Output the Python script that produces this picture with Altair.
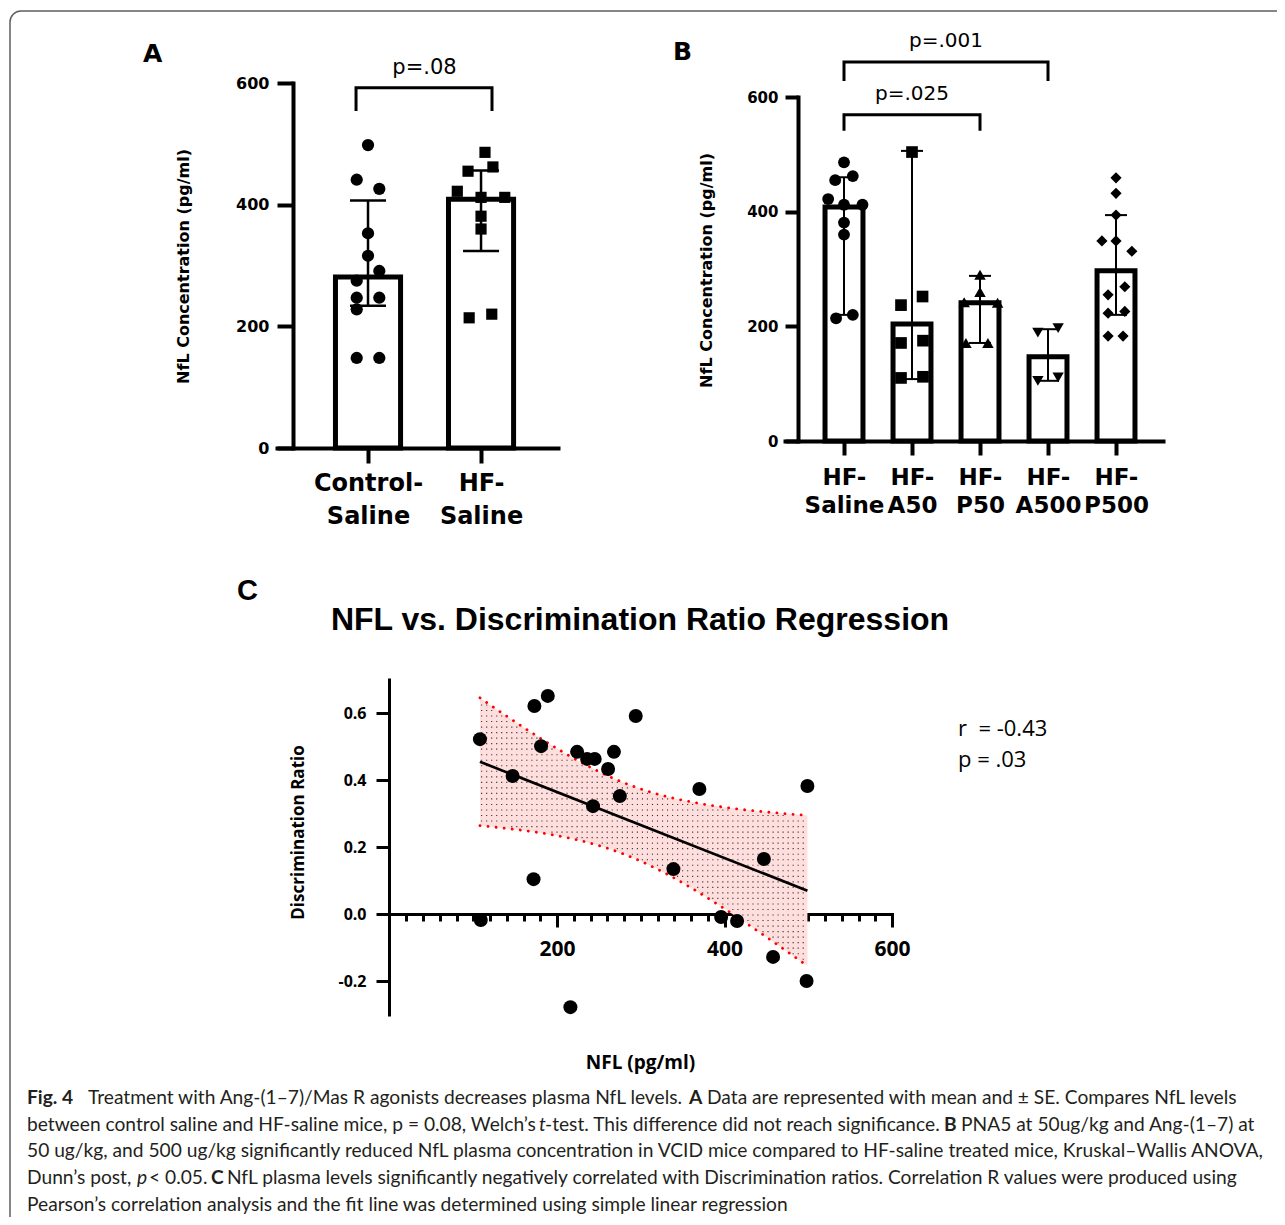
import altair as alt
import numpy as np
import pandas as pd

W, H = 1269, 1209          # whole drawing area (plot area of the single layered chart)
OX, OY = 8, 8              # page margin


def px(v):
    return v - OX


def py(v):
    return v - OY


# ---------------- Panel A data ----------------
a_groups = ["Control-Saline", "HF-Saline"]
a_tick_lines = [["Control-", "Saline"], ["HF-", "Saline"]]
a_mean = [281, 409]
a_err_lo = [234, 324]
a_err_hi = [407, 456]
a_ctrl_vals = [498, 441, 426, 353, 316, 291, 275, 247, 247, 228, 148, 148]
a_ctrl_col = [0, -1, 1, 0, 0, 1, -1, -1, 1, -1, -1, 1]
a_hf_vals = [486, 455, 462, 422, 412, 412, 381, 360, 214, 220]
a_hf_col = [0.35, -1.15, 1.05, -2.1, 0, 2.1, 0, 0, -1.05, 0.95]
a_pvalue = "p=.08"

# ---------------- Panel B data ----------------
b_groups = ["HF-Saline", "HF-A50", "HF-P50", "HF-A500", "HF-P500"]
b_tick_lines = [["HF-", "Saline"], ["HF-", "A50"], ["HF-", "P50"], ["HF-", "A500"], ["HF-", "P500"]]
b_shapes = ["circle", "square", "triangle-up", "triangle-down", "diamond"]
b_mean = [408, 204, 241, 147, 297]
b_err_lo = [220, 108, 171, 105, 220]
b_err_hi = [460, 506, 288, 195, 394]
b_saline_vals = [486, 455, 462, 422, 412, 412, 381, 360, 214, 220]
b_saline_col = [0, -1, 1, -1.8, 0, 2.1, 0, 0, -0.9, 1]
b_a50_vals = [504, 237, 252, 171, 175, 110, 112]
b_a50_col = [0, -1.25, 1.2, -1.25, 1.25, -1.25, 1.25]
b_p50_vals = [290, 260, 242, 241, 171, 171]
b_p50_col = [0, 0, -1.8, 2, -1.6, 0.9]
b_a500_vals = [189, 197, 105, 111]
b_a500_col = [-1.15, 1.15, -1.15, 1.15]
b_p500_vals = [459, 432, 394, 349, 349, 331, 269, 255, 223, 226, 183, 183]
b_p500_col = [0, 0, 0, -1.6, 0, 1.8, 1, -0.9, -0.9, 1, -0.9, 0.8]
b_pvalues = ["p=.001", "p=.025"]

# ---------------- Panel C data ----------------
c_nfl = [108, 173, 189, 294, 181, 147, 224, 236, 245, 268, 261, 275, 243, 370, 499,
         172, 339, 447, 109, 396, 415, 458, 498, 216]
c_dr = [0.522, 0.621, 0.651, 0.591, 0.501, 0.412, 0.484, 0.463, 0.463, 0.484, 0.433,
        0.352, 0.322, 0.373, 0.382, 0.104, 0.134, 0.164, -0.018, -0.009, -0.021,
        -0.128, -0.200, -0.278]
c_stats = ["r\u00a0 = -0.43", "p = .03"]
c_title = "NFL vs. Discrimination Ratio Regression"

# ---------------- caption ----------------
caption = [
    [("Fig. 4", "bold", 27), ("Treatment with Ang-(1–7)/Mas R agonists decreases plasma NfL levels.", "normal", 88),
     ("A", "bold", 689), ("Data are represented with mean and ± SE. Compares NfL levels", "normal", 707)],
    [("between control saline and HF-saline mice, p = 0.08, Welch’s", "normal", 27), ("t", "italic", 539),
     ("-test. This difference did not reach significance.", "normal", 545), ("B", "bold", 944),
     ("PNA5 at 50ug/kg and Ang-(1–7) at", "normal", 961)],
    [("50 ug/kg, and 500 ug/kg significantly reduced NfL plasma concentration in VCID mice compared to HF-saline treated mice, Kruskal–Wallis ANOVA,", "normal", 27)],
    [("Dunn’s post,", "normal", 27), ("p", "italic", 137), ("< 0.05.", "normal", 149), ("C", "bold", 211),
     ("NfL plasma levels significantly negatively correlated with Discrimination ratios. Correlation R values were produced using", "normal", 227)],
    [("Pearson’s correlation analysis and the fit line was determined using simple linear regression", "normal", 27)],
]
caption_baselines = [1104, 1131, 1157, 1184, 1211]

FONT_AB = "DejaVu Sans"
FONT_C = "Open Sans"
COMMON = dict(grid=False, domainColor="black", tickColor="black", labelColor="black",
              titleColor="black", labelFlush=False, labelOverlap=False, domainCap="square")


def label_expr(lines):
    out = ""
    for i, ls in enumerate(lines):
        arr = "[" + ",".join("'" + s + "'" for s in ls) + "]"
        out += f"datum.value == {i + 1} ? {arr} : "
    return out + "''"


def px_text(rows, **kw):
    df = pd.DataFrame(rows, columns=["text", "x", "y"])
    return alt.Chart(df).mark_text(**kw).encode(
        x=alt.X("x:Q", scale=None, axis=None),
        y=alt.Y("y:Q", scale=None, axis=None),
        text="text:N")


layers = []

# frame
layers.append(alt.Chart(pd.DataFrame({"a": [0]})).mark_rect(
    fillOpacity=0, stroke="#5f5f5f", strokeWidth=1.5, cornerRadius=11).encode(
    x=alt.value(px(10)), x2=alt.value(W + 60), y=alt.value(py(11)), y2=alt.value(H + 60)))

# =============== PANEL A ===============
A_X = alt.Scale(domain=[0.1947, 2.681], range=[px(277), px(558)], nice=False, zero=False)
A_Y = alt.Scale(domain=[0, 600], range=[py(448), py(83)], nice=False, zero=False)
A_JIT = 0.1
A_HALF = 0.288

a_xaxis = alt.Axis(orient="bottom", offset=py(448) - H, values=[1, 2], labelExpr=label_expr(a_tick_lines),
                   tickSize=15, tickWidth=4, domainWidth=4, labelFont=FONT_AB, labelFontWeight="bold",
                   labelFontSize=24, labelLineHeight=33, labelPadding=8.5, labelBaseline="top",
                   title=None, **COMMON)
a_yaxis = alt.Axis(orient="left", offset=-px(293), values=[0, 200, 400, 600], tickSize=16, tickWidth=4,
                   domainWidth=4, labelFont=FONT_AB, labelFontWeight="bold", labelFontSize=16,
                   labelPadding=8, title="NfL Concentration (pg/ml)", titleFont=FONT_AB,
                   titleFontWeight="bold", titleFontSize=16, titleBaseline="alphabetic",
                   titleX=188.5 - 293, titleY=py(266), **COMMON)

a_df = pd.DataFrame({"grp": a_groups, "pos": [1, 2], "mean": a_mean, "lo": a_err_lo, "hi": a_err_hi})
layers.append(alt.Chart(a_df).transform_calculate(
    left=f"datum.pos - {A_HALF}", right=f"datum.pos + {A_HALF}", base="0").mark_bar(
    fill="white", stroke="black", strokeWidth=5).encode(
    x=alt.X("left:Q", scale=A_X, axis=a_xaxis), x2="right:Q",
    y=alt.Y("mean:Q", scale=A_Y, axis=a_yaxis), y2="base:Q"))
layers.append(alt.Chart(a_df).mark_rule(color="black", strokeWidth=2.5).encode(
    x=alt.X("pos:Q", scale=A_X, axis=None), y=alt.Y("lo:Q", scale=A_Y, axis=None), y2="hi:Q"))
layers.append(alt.Chart(a_df).transform_fold(["lo", "hi"], as_=["k", "v"]).mark_point(
    shape="stroke", size=36 ** 2, strokeWidth=2.5, color="black", opacity=1).encode(
    x=alt.X("pos:Q", scale=A_X, axis=None), y=alt.Y("v:Q", scale=A_Y, axis=None)))

a_pts = pd.DataFrame({
    "grp": [a_groups[0]] * len(a_ctrl_vals) + [a_groups[1]] * len(a_hf_vals),
    "val": a_ctrl_vals + a_hf_vals,
    "x": [1 + c * A_JIT for c in a_ctrl_col] + [2 + c * A_JIT for c in a_hf_col]})
layers.append(alt.Chart(a_pts).mark_point(filled=True, opacity=1, color="black").encode(
    x=alt.X("x:Q", scale=A_X, axis=None), y=alt.Y("val:Q", scale=A_Y, axis=None),
    shape=alt.Shape("grp:N", scale=alt.Scale(domain=a_groups, range=["circle", "square"]), legend=None),
    size=alt.Size("grp:N", scale=alt.Scale(domain=a_groups, range=[150, 125]), legend=None)))

a_br = pd.DataFrame({"x": [0.894, 0.894, 2.097, 2.097], "y": [554, 592, 592, 554], "o": [0, 1, 2, 3]})
layers.append(alt.Chart(a_br).mark_line(color="black", strokeWidth=3, strokeJoin="miter").encode(
    x=alt.X("x:Q", scale=A_X, axis=None), y=alt.Y("y:Q", scale=A_Y, axis=None), order="o:Q"))
layers.append(alt.Chart(pd.DataFrame({"t": [a_pvalue], "x": [1.5], "y": [615]})).mark_text(
    font=FONT_AB, fontSize=21, baseline="alphabetic", align="center", color="black").encode(
    x=alt.X("x:Q", scale=A_X, axis=None), y=alt.Y("y:Q", scale=A_Y, axis=None), text="t:N"))

# =============== PANEL B ===============
B_X = alt.Scale(domain=[0.1324, 5.691], range=[px(785), px(1163)], nice=False, zero=False)
B_Y = alt.Scale(domain=[0, 600], range=[py(441), py(97)], nice=False, zero=False)
B_JIT = 0.1294
B_HALF = 0.279

b_xaxis = alt.Axis(orient="bottom", offset=py(441) - H, values=[1, 2, 3, 4, 5],
                   labelExpr=label_expr(b_tick_lines), tickSize=14, tickWidth=4, domainWidth=4,
                   labelFont=FONT_AB, labelFontWeight="bold", labelFontSize=23, labelLineHeight=28,
                   labelPadding=11.5, labelBaseline="top", title=None, **COMMON)
b_yaxis = alt.Axis(orient="left", offset=-px(798), values=[0, 200, 400, 600], tickSize=13, tickWidth=4,
                   domainWidth=4, labelFont=FONT_AB, labelFontWeight="bold", labelFontSize=15,
                   labelPadding=7, title="NfL Concentration (pg/ml)", titleFont=FONT_AB,
                   titleFontWeight="bold", titleFontSize=16, titleBaseline="alphabetic",
                   titleX=711.5 - 798, titleY=py(270), **COMMON)

b_df = pd.DataFrame({"grp": b_groups, "pos": [1, 2, 3, 4, 5], "mean": b_mean, "lo": b_err_lo, "hi": b_err_hi})
layers.append(alt.Chart(b_df).transform_calculate(
    left=f"datum.pos - {B_HALF}", right=f"datum.pos + {B_HALF}", base="0").mark_bar(
    fill="white", stroke="black", strokeWidth=5).encode(
    x=alt.X("left:Q", scale=B_X, axis=b_xaxis), x2="right:Q",
    y=alt.Y("mean:Q", scale=B_Y, axis=b_yaxis), y2="base:Q"))
layers.append(alt.Chart(b_df).mark_rule(color="black", strokeWidth=2).encode(
    x=alt.X("pos:Q", scale=B_X, axis=None), y=alt.Y("lo:Q", scale=B_Y, axis=None), y2="hi:Q"))
layers.append(alt.Chart(b_df).transform_fold(["lo", "hi"], as_=["k", "v"]).mark_point(
    shape="stroke", size=22 ** 2, strokeWidth=2, color="black", opacity=1).encode(
    x=alt.X("pos:Q", scale=B_X, axis=None), y=alt.Y("v:Q", scale=B_Y, axis=None)))

b_vals = [b_saline_vals, b_a50_vals, b_p50_vals, b_a500_vals, b_p500_vals]
b_cols = [b_saline_col, b_a50_col, b_p50_col, b_a500_col, b_p500_col]
rows = []
for i, (vals, cols) in enumerate(zip(b_vals, b_cols)):
    for v, c in zip(vals, cols):
        rows.append({"grp": b_groups[i], "val": v, "x": i + 1 + c * B_JIT})
b_pts = pd.DataFrame(rows)
layers.append(alt.Chart(b_pts).mark_point(filled=True, opacity=1, color="black").encode(
    x=alt.X("x:Q", scale=B_X, axis=None), y=alt.Y("val:Q", scale=B_Y, axis=None),
    shape=alt.Shape("grp:N", scale=alt.Scale(domain=b_groups, range=b_shapes), legend=None),
    size=alt.Size("grp:N", scale=alt.Scale(domain=b_groups, range=[140, 125, 270, 300, 300]), legend=None)))

b_br = pd.DataFrame({
    "x": [1, 1, 4, 4, 1, 1, 3, 3],
    "y": [628, 661, 661, 628, 541, 569, 569, 541],
    "o": [0, 1, 2, 3, 0, 1, 2, 3],
    "id": ["a"] * 4 + ["b"] * 4})
layers.append(alt.Chart(b_br).mark_line(color="black", strokeWidth=3, strokeJoin="miter").encode(
    x=alt.X("x:Q", scale=B_X, axis=None), y=alt.Y("y:Q", scale=B_Y, axis=None),
    order="o:Q", detail="id:N"))
layers.append(alt.Chart(pd.DataFrame({"t": b_pvalues, "x": [2.5, 2.0], "y": [687, 595]})).mark_text(
    font=FONT_AB, fontSize=20, baseline="alphabetic", align="center", color="black").encode(
    x=alt.X("x:Q", scale=B_X, axis=None), y=alt.Y("y:Q", scale=B_Y, axis=None), text="t:N"))

# =============== PANEL C ===============
C_X = alt.Scale(domain=[0, 600], range=[px(389.5), px(892)], nice=False, zero=False)
C_Y = alt.Scale(domain=[-0.3, 0.7], range=[py(1014.5), py(679.5)], nice=False, zero=False)

xv = np.array(c_nfl, float)
yv = np.array(c_dr, float)
n = len(xv)
slope, icpt = np.polyfit(xv, yv, 1)
resid = yv - (slope * xv + icpt)
s_err = np.sqrt((resid ** 2).sum() / (n - 2))
xbar = xv.mean()
sxx = ((xv - xbar) ** 2).sum()
T975 = 2.074  # Student t quantile, n-2 = 22 df


def ci(xg):
    f = slope * xg + icpt
    h = T975 * s_err * np.sqrt(1.0 / n + (xg - xbar) ** 2 / sxx)
    return f - h, f + h


gx = np.linspace(xv.min(), xv.max(), 80)
lo, hi = ci(gx)
band = pd.DataFrame({"x": gx, "lo": lo, "hi": hi})
edges = pd.concat([pd.DataFrame({"x": gx, "y": lo, "e": "lo"}), pd.DataFrame({"x": gx, "y": hi, "e": "hi"})])

# dot texture inside the confidence band
tx, ty = np.meshgrid(np.arange(110, xv.max(), 6.0), np.arange(-0.3, 0.7, 0.0165))
tx, ty = tx.ravel(), ty.ravel()
tlo, thi = ci(tx)
keep = (ty > tlo + 0.006) & (ty < thi - 0.006)
tex = pd.DataFrame({"x": tx[keep], "y": ty[keep]})

c_xaxis = alt.Axis(orient="bottom", offset=py(914) - H, values=[200, 400, 600], tickSize=13, tickWidth=3,
                   domainWidth=3, labelFont=FONT_C, labelFontWeight="bold", labelFontSize=21,
                   labelPadding=11.4, title="NFL (pg/ml)", titleFont=FONT_C, titleFontWeight="bold",
                   titleFontSize=19, titleBaseline="alphabetic", titleX=px(640), titleY=1068 - 914,
                   **COMMON)
c_xminor = alt.Axis(orient="bottom", offset=py(914) - H, values=list(range(20, 601, 20)), tickSize=7,
                    tickWidth=3, domain=False, labels=False, title=None, grid=False, tickColor="black")
c_yaxis = alt.Axis(orient="left", offset=-px(389), values=[-0.2, 0, 0.2, 0.4, 0.6], tickSize=13,
                   tickWidth=3, domainWidth=3, labelFont=FONT_C, labelFontWeight="bold", labelFontSize=16,
                   labelPadding=10,
                   labelExpr="datum.value < 0 ? '-' + format(-datum.value, '.1f') : format(datum.value, '.1f')",
                   title="Discrimination Ratio", titleFont=FONT_C, titleFontWeight="bold", titleFontSize=17,
                   titleBaseline="alphabetic", titleX=303 - 389, titleY=py(832), **COMMON)

layers.append(alt.Chart(band).mark_area(fill="#ffdede", opacity=1).encode(
    x=alt.X("x:Q", scale=C_X, axis=c_xaxis), y=alt.Y("lo:Q", scale=C_Y, axis=c_yaxis), y2="hi:Q"))
layers.append(alt.Chart(tex).mark_square(size=1.3, color="#222222", opacity=0.9).encode(
    x=alt.X("x:Q", scale=C_X, axis=c_xminor), y=alt.Y("y:Q", scale=C_Y, axis=None)))
layers.append(alt.Chart(edges).mark_line(color="#ff0000", strokeWidth=2.8, strokeDash=[0.1, 8],
                                         strokeCap="round").encode(
    x=alt.X("x:Q", scale=C_X, axis=None), y=alt.Y("y:Q", scale=C_Y, axis=None), detail="e:N"))

c_df = pd.DataFrame({"nfl": c_nfl, "dr": c_dr})
layers.append(alt.Chart(c_df).transform_regression("nfl", "dr").mark_line(color="black", strokeWidth=2.7).encode(
    x=alt.X("nfl:Q", scale=C_X, axis=None), y=alt.Y("dr:Q", scale=C_Y, axis=None)))
layers.append(alt.Chart(c_df).mark_circle(size=196, color="black", opacity=1).encode(
    x=alt.X("nfl:Q", scale=C_X, axis=None), y=alt.Y("dr:Q", scale=C_Y, axis=None)))

# ---------- free text ----------
layers.append(px_text([("A", px(143), py(62)), ("B", px(673), py(60))],
                      font=FONT_AB, fontWeight="bold", fontSize=25, align="left", baseline="alphabetic",
                      color="black"))
layers.append(px_text([("C", px(237), py(600))], font="Liberation Sans", fontWeight="bold", fontSize=29,
                      align="left", baseline="alphabetic", color="black"))
layers.append(px_text([(c_title, px(640), py(630))], font="Liberation Sans", fontWeight="bold", fontSize=32,
                      align="center", baseline="alphabetic", color="black"))
layers.append(px_text([(c_stats[0], px(958), py(736)), (c_stats[1], px(958), py(767))],
                      font=FONT_C, fontSize=22, align="left", baseline="alphabetic", color="black"))

for style in ["normal", "bold", "italic"]:
    rows = []
    for line, yb in zip(caption, caption_baselines):
        for txt, st, x0 in line:
            if st == style:
                rows.append((txt, px(x0), py(yb)))
    kw = dict(font="Lato", fontSize=19.2, align="left", baseline="alphabetic", color="#231f20")
    if style == "bold":
        kw["fontWeight"] = "bold"
    if style == "italic":
        kw["fontStyle"] = "italic"
    layers.append(px_text(rows, **kw))

chart = alt.layer(*layers).resolve_scale(
    x="independent", y="independent", shape="independent", size="independent"
).properties(
    width=W, height=H, padding=0, autosize=alt.AutoSizeParams(type="none"), background="white"
).configure_view(stroke=None)

chart.save("out.html", embed_options={"renderer": "svg", "actions": False})
